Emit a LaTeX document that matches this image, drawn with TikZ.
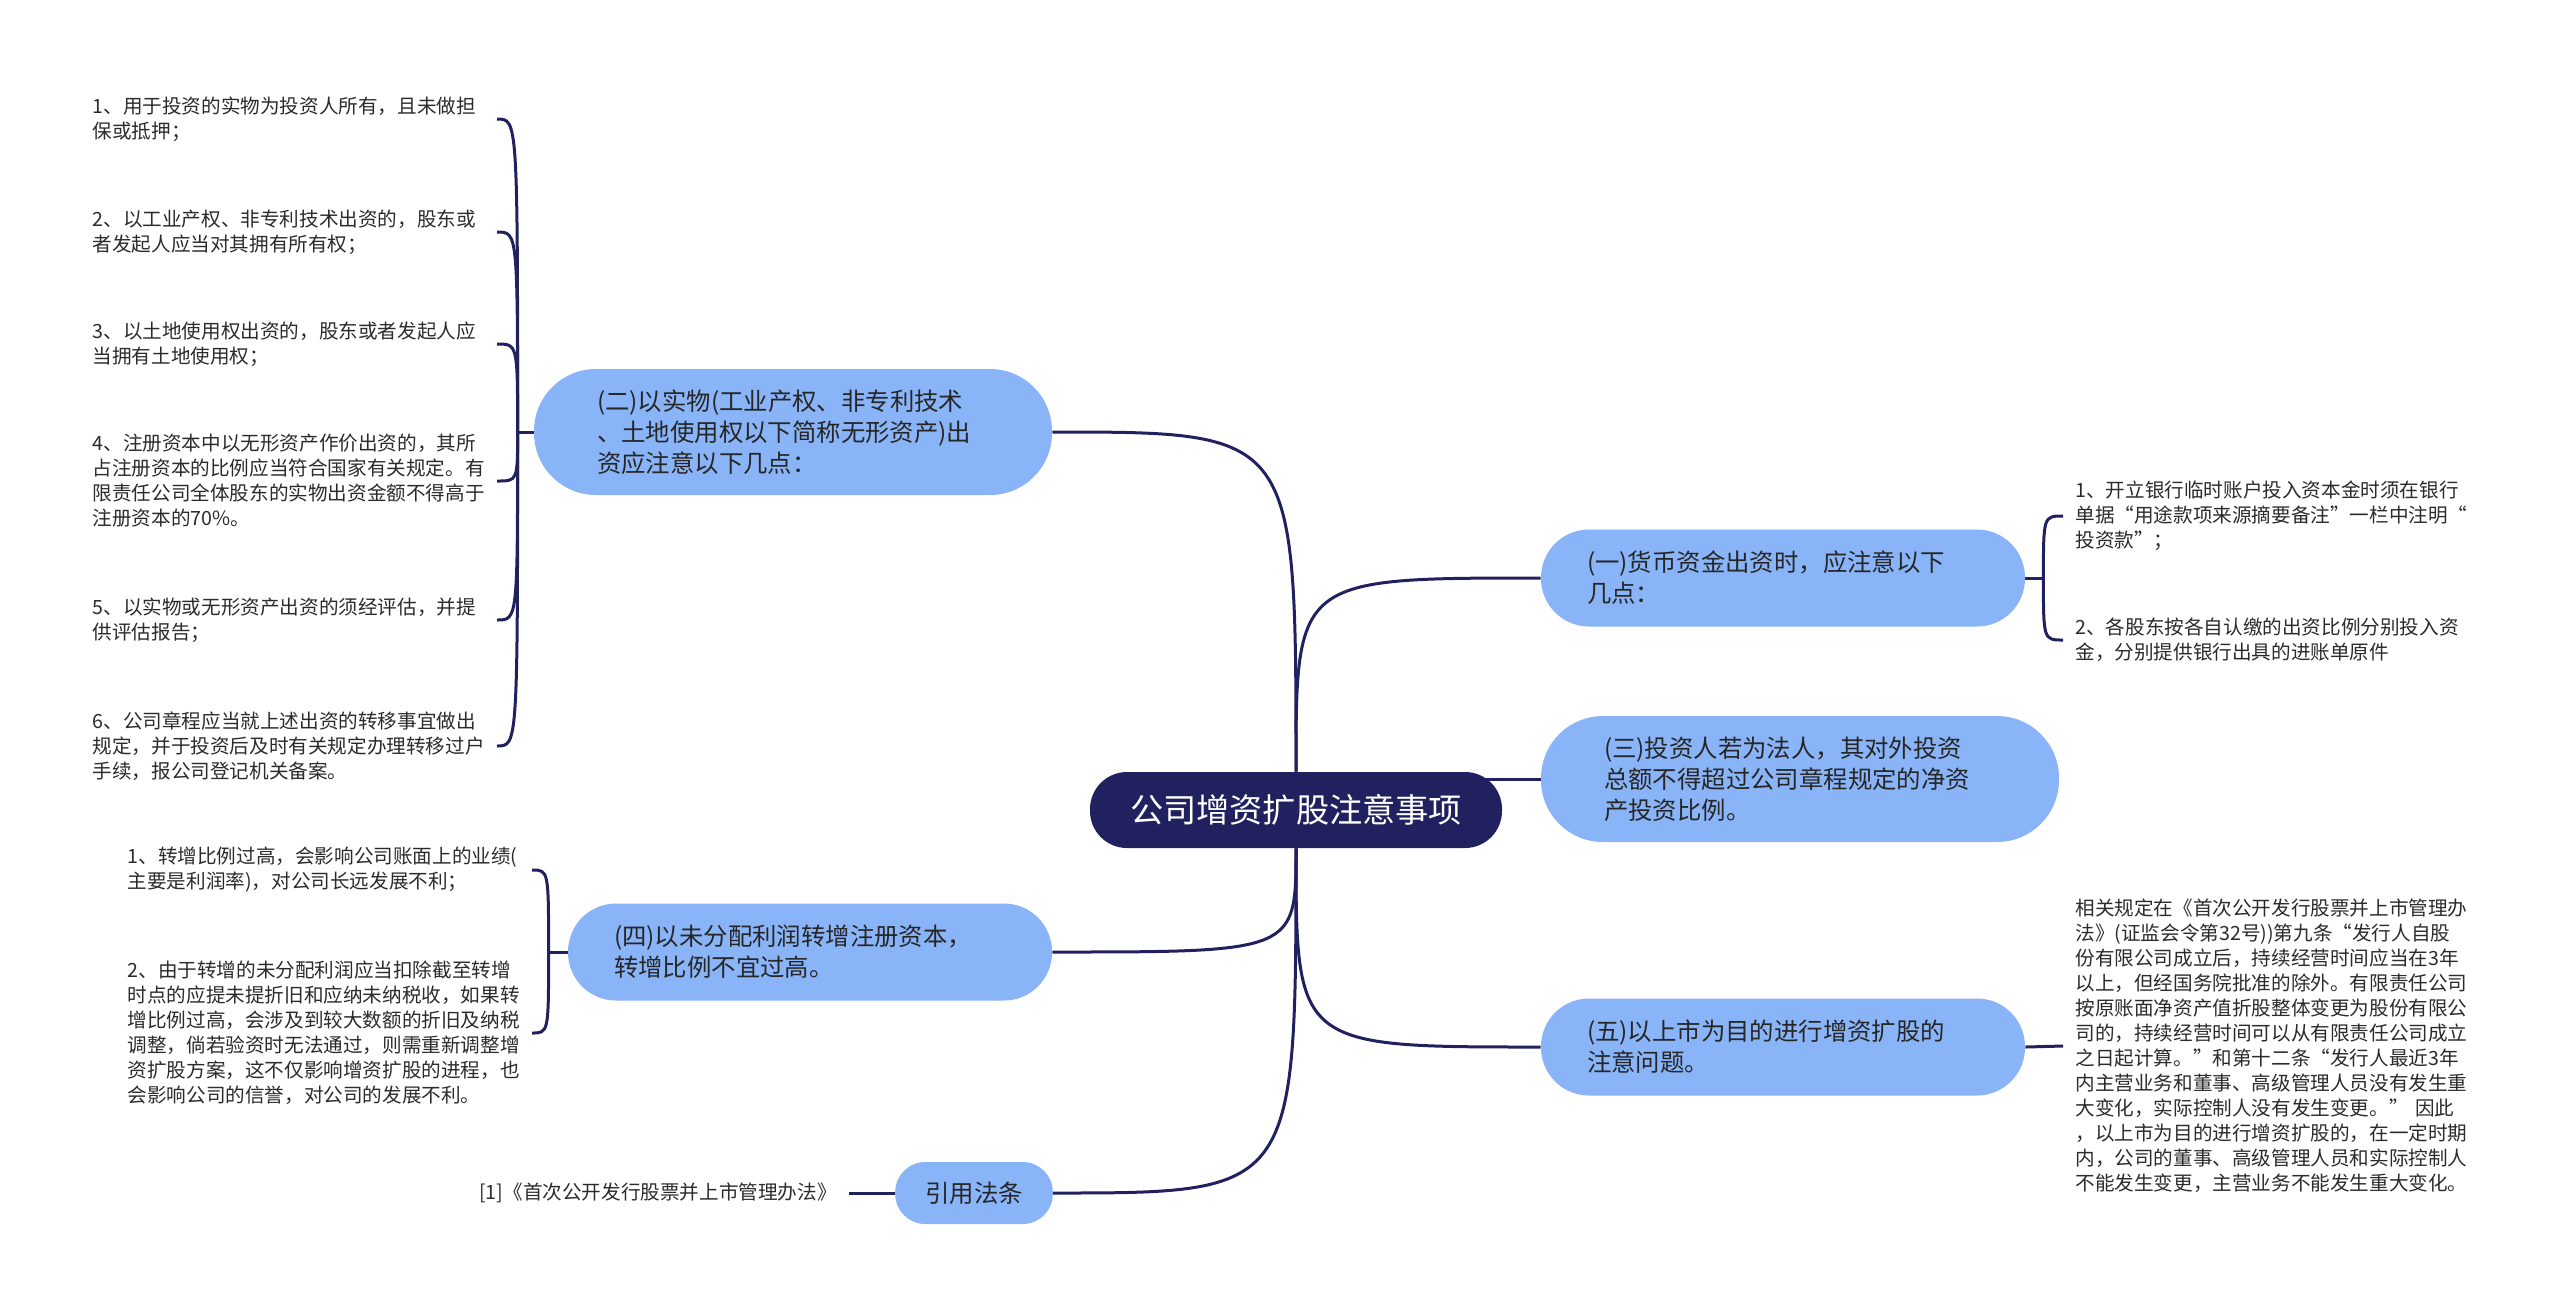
\documentclass[tikz,border=0pt]{standalone}
\usepackage{fontspec}
\setmainfont{Noto Sans CJK SC}
\usetikzlibrary{backgrounds}
\definecolor{navy}{HTML}{20215E}
\definecolor{skyblue}{HTML}{8AB4F8}
\definecolor{leafgray}{HTML}{2B2B2B}

\begin{document}
\begin{tikzpicture}[x=0.5pt, y=-0.5pt,
  root/.style={fill=navy, text=white, font=\fontsize{16.6}{20}\selectfont,
    rounded corners=18.5pt, minimum height=38pt, inner xsep=20pt, inner ysep=0pt},
  pill/.style={fill=skyblue, text=black!85, font=\fontsize{12.2}{15.5}\selectfont, inner ysep=0pt},
  branch/.style={pill, align=left, text width=196pt, rounded corners=24pt,
    minimum height=48.5pt, inner xsep=23pt},
  tall/.style={rounded corners=31pt, minimum height=63pt, inner xsep=31.5pt},
  leaftext/.style={text=leafgray, font=\fontsize{9.8}{12.5}\selectfont, align=left, inner xsep=6pt},
  leaf/.style={leaftext, text width=196pt},
  link/.style={draw=navy, line width=1.5pt}]
  \useasboundingbox (0,0) rectangle (2560,1303);

  % main topic and branches
  \node[root] (root) at (1296,810) {公司增资扩股注意事项};
  \node[branch, tall] (b2) at (793,432) {(二)以实物(工业产权、非专利技术\\、土地使用权以下简称无形资产)出\\资应注意以下几点：};
  \node[branch] (b1) at (1783,578) {(一)货币资金出资时，应注意以下\\几点：};
  \node[branch, tall] (b3) at (1800,779) {(三)投资人若为法人，其对外投资\\总额不得超过公司章程规定的净资\\产投资比例。};
  \node[branch] (b4) at (810,952) {(四)以未分配利润转增注册资本，\\转增比例不宜过高。};
  \node[branch] (b5) at (1783,1047) {(五)以上市为目的进行增资扩股的\\注意问题。};
  \node[pill, rounded corners=15pt, minimum height=31pt, inner xsep=15pt] (cite) at (974,1193) {引用法条};

  % leaves
  \node[leaf, anchor=east] (l21) at (497,119) {1、用于投资的实物为投资人所有，且未做担\\保或抵押；};
  \node[leaf, anchor=east] (l22) at (497,232) {2、以工业产权、非专利技术出资的，股东或\\者发起人应当对其拥有所有权；};
  \node[leaf, anchor=east] (l23) at (497,344) {3、以土地使用权出资的，股东或者发起人应\\当拥有土地使用权；};
  \node[leaf, anchor=east] (l24) at (497,481) {4、注册资本中以无形资产作价出资的，其所\\占注册资本的比例应当符合国家有关规定。有\\限责任公司全体股东的实物出资金额不得高于\\注册资本的70\%。};
  \node[leaf, anchor=east] (l25) at (497,620) {5、以实物或无形资产出资的须经评估，并提\\供评估报告；};
  \node[leaf, anchor=east] (l26) at (497,746) {6、公司章程应当就上述出资的转移事宜做出\\规定，并于投资后及时有关规定办理转移过户\\手续，报公司登记机关备案。};
  \node[leaf, anchor=west] (l11) at (2063,516) {1、开立银行临时账户投入资本金时须在银行\\单据“用途款项来源摘要备注”一栏中注明“\\投资款”；};
  \node[leaf, anchor=west] (l12) at (2063,640) {2、各股东按各自认缴的出资比例分别投入资\\金，分别提供银行出具的进账单原件};
  \node[leaf, anchor=east] (l41) at (532,870) {1、转增比例过高，会影响公司账面上的业绩(\\主要是利润率)，对公司长远发展不利；};
  \node[leaf, anchor=east] (l42) at (532,1033) {2、由于转增的未分配利润应当扣除截至转增\\时点的应提未提折旧和应纳未纳税收，如果转\\增比例过高，会涉及到较大数额的折旧及纳税\\调整，倘若验资时无法通过，则需重新调整增\\资扩股方案，这不仅影响增资扩股的进程，也\\会影响公司的信誉，对公司的发展不利。};
  \node[leaf, anchor=west] (l51) at (2063,1046) {相关规定在《首次公开发行股票并上市管理办\\法》(证监会令第32号))第九条“发行人自股\\份有限公司成立后，持续经营时间应当在3年\\以上，但经国务院批准的除外。有限责任公司\\按原账面净资产值折股整体变更为股份有限公\\司的，持续经营时间可以从有限责任公司成立\\之日起计算。”和第十二条“发行人最近3年\\内主营业务和董事、高级管理人员没有发生重\\大变化，实际控制人没有发生变更。” 因此\\，以上市为目的进行增资扩股的，在一定时期\\内，公司的董事、高级管理人员和实际控制人\\不能发生变更，主营业务不能发生重大变化。};
  \node[leaftext, anchor=east] (l61) at (849,1193) {[1]《首次公开发行股票并上市管理办法》};

  \path (b2.west) ++(-16,0) coordinate (j2);
  \path (b4.west) ++(-19,0) coordinate (j4);
  \path (b1.east) ++(18,0) coordinate (j1);

  \begin{pgfonlayer}{background}
    \fill[white] (0,0) rectangle (2560,1303);
    \draw[link] (root.north) .. controls (root.north |- b2.east) .. (b2.east);
    \draw[link] (root.north) .. controls (root.north |- b1.west) .. (b1.west);
    \draw[link] (b3.west) -- (root.center |- b3.west);
    \draw[link] (root.south) .. controls (root.south |- b4.east) .. (b4.east);
    \draw[link] (root.south) .. controls (root.south |- b5.west) .. (b5.west);
    \draw[link] (root.south) .. controls (root.south |- cite.east) .. (cite.east);
    % brackets to the leaves
    \draw[link] (b2.west) -- (j2);
    \foreach \l in {l21,l22,l23,l24,l25,l26}
      \draw[link] (j2) .. controls (j2 |- \l.east) .. (\l.east);
    \draw[link] (b4.west) -- (j4);
    \foreach \l in {l41,l42}
      \draw[link] (j4) .. controls (j4 |- \l.east) .. (\l.east);
    \draw[link] (b1.east) -- (j1);
    \foreach \l in {l11,l12}
      \draw[link] (j1) .. controls (j1 |- \l.west) .. (\l.west);
    \draw[link] (b5.east) -- (l51.west);
    \draw[link] (cite.west) -- (l61.east);
  \end{pgfonlayer}
\end{tikzpicture}
\end{document}
